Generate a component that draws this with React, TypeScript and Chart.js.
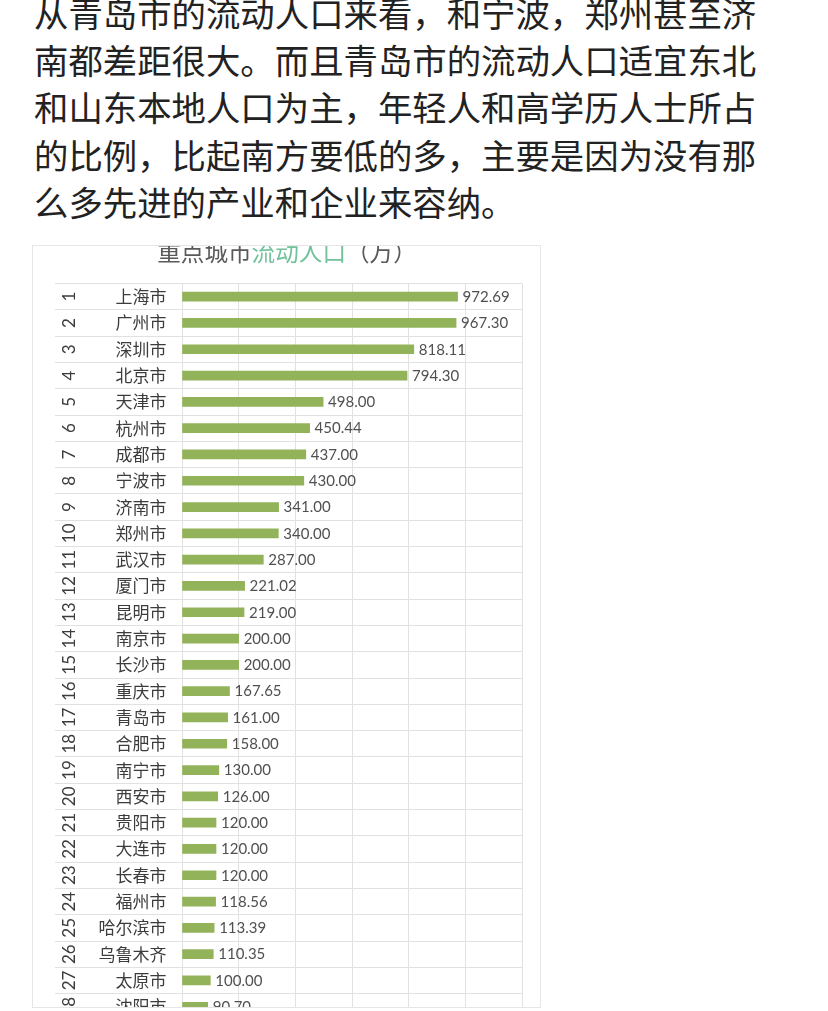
import React, { useEffect, useRef } from 'react';
import { Chart, registerables } from 'chart.js';

Chart.register(...registerables);

const paragraphLines = [
  '从青岛市的流动人口来看，和宁波，郑州甚至济',
  '南都差距很大。而且青岛市的流动人口适宜东北',
  '和山东本地人口为主，年轻人和高学历人士所占',
  '的比例，比起南方要低的多，主要是因为没有那',
  '么多先进的产业和企业来容纳。',
];

const titleTexts = ['重点城市', '流动人口', '（万）'];

const ranks = [
  '1', '2', '3', '4', '5', '6', '7', '8', '9', '10', '11', '12', '13', '14',
  '15', '16', '17', '18', '19', '20', '21', '22', '23', '24', '25', '26', '27', '28',
];

const cities = [
  '上海市', '广州市', '深圳市', '北京市', '天津市', '杭州市', '成都市',
  '宁波市', '济南市', '郑州市', '武汉市', '厦门市', '昆明市', '南京市',
  '长沙市', '重庆市', '青岛市', '合肥市', '南宁市', '西安市', '贵阳市',
  '大连市', '长春市', '福州市', '哈尔滨市', '乌鲁木齐', '太原市', '沈阳市',
];

const values = [
  972.69, 967.3, 818.11, 794.3, 498.0, 450.44, 437.0,
  430.0, 341.0, 340.0, 287.0, 221.02, 219.0, 200.0,
  200.0, 167.65, 161.0, 158.0, 130.0, 126.0, 120.0,
  120.0, 120.0, 118.56, 113.39, 110.35, 100.0, 90.7,
];

const xMin = 0;
const xMax = 1200;
const xStep = 200;

const CANVAS_W = 828;
const CANVAS_H = 1040;
const GRID = '#e1e1e1';
const TEXT_DARK = '#3c3c3c';
const TITLE_GRAY = '#5a5a5a';
const TITLE_GREEN = '#72c29c';

const labelsPlugin = {
  id: 'tableLabels',
  afterDatasetsDraw(chart: any) {
    const ctx = chart.ctx as CanvasRenderingContext2D;
    const ys = chart.scales.y;
    const xs = chart.scales.x;
    ctx.save();

    // title
    ctx.font = '23.6px "Noto Sans CJK SC"';
    ctx.textBaseline = 'middle';
    ctx.textAlign = 'left';
    const widths = titleTexts.map((t) => ctx.measureText(t).width);
    const total = widths.reduce((a, b) => a + b, 0);
    let tx = 287 - total / 2;
    titleTexts.forEach((t, i) => {
      ctx.fillStyle = i === 1 ? TITLE_GREEN : TITLE_GRAY;
      ctx.fillText(t, tx, 252);
      tx += widths[i];
    });

    cities.forEach((city, i) => {
      const py = ys.getPixelForValue(i);
      // rank (rotated)
      ctx.save();
      ctx.translate(70, py);
      ctx.rotate(-Math.PI / 2);
      ctx.font = '17px Lato';
      ctx.fillStyle = TEXT_DARK;
      ctx.textAlign = 'center';
      ctx.textBaseline = 'middle';
      ctx.fillText(ranks[i], 0, 0);
      ctx.restore();

      // city name
      ctx.font = '17px "Noto Sans CJK SC"';
      ctx.fillStyle = TEXT_DARK;
      ctx.textAlign = 'right';
      ctx.textBaseline = 'middle';
      ctx.fillText(city, 166.5, py);

      // value label
      const bx = xs.getPixelForValue(values[i]);
      ctx.font = '15px Lato';
      ctx.fillStyle = '#505050';
      ctx.textAlign = 'left';
      ctx.fillText(values[i].toFixed(2), bx + 5, py + 0.5);
    });
    ctx.restore();
  },
};

function ChartCanvas() {
  const ref = useRef<HTMLCanvasElement | null>(null);
  useEffect(() => {
    if (!ref.current) return;
    const chart = new Chart(ref.current, {
      type: 'bar',
      data: {
        labels: cities,
        datasets: [
          {
            data: values,
            backgroundColor: '#93b35a',
            barThickness: 9,
          },
        ],
      },
      options: {
        indexAxis: 'y',
        responsive: false,
        animation: false,
        devicePixelRatio: 1,
        layout: {
          padding: { left: 55, right: CANVAS_W - 522, top: 283.5, bottom: CANVAS_H - 1019.9 },
        },
        plugins: {
          legend: { display: false },
          tooltip: { enabled: false },
          title: { display: false },
        },
        scales: {
          x: {
            type: 'linear',
            min: xMin,
            max: xMax,
            ticks: { display: false, stepSize: xStep },
            grid: { color: GRID, drawTicks: false, lineWidth: 1 },
            border: { display: false },
            afterFit: (s: any) => {
              s.height = 0;
            },
          },
          y: {
            type: 'category',
            offset: true,
            ticks: { display: false },
            grid: {
              offset: true,
              color: GRID,
              tickColor: GRID,
              drawTicks: true,
              tickLength: 127,
              lineWidth: 1,
            },
            border: { display: false },
            afterFit: (s: any) => {
              s.width = 127;
            },
          },
        },
      } as any,
      plugins: [labelsPlugin],
    });
    return () => chart.destroy();
  }, []);
  return (
    <canvas
      ref={ref}
      width={CANVAS_W}
      height={CANVAS_H}
      style={{ position: 'absolute', left: -32, top: -245, width: CANVAS_W, height: CANVAS_H }}
    />
  );
}

export default function App() {
  return (
    <div
      style={{
        position: 'absolute',
        left: 0,
        top: 0,
        width: 828,
        height: 1011,
        overflow: 'hidden',
        background: '#ffffff',
      }}
    >
      <div
        style={{
          position: 'absolute',
          left: 34,
          top: -11.5,
          fontFamily: '"Noto Sans CJK SC", sans-serif',
          fontSize: 34.4,
          lineHeight: '47.4px',
          color: '#222222',
        }}
      >
        {paragraphLines.map((l, i) => (
          <div key={i} style={{ whiteSpace: 'nowrap' }}>
            {l}
          </div>
        ))}
      </div>
      <div
        style={{
          position: 'absolute',
          left: 32,
          top: 245,
          width: 509,
          height: 763,
          overflow: 'hidden',
          background: '#ffffff',
        }}
      >
        <ChartCanvas />
        <div
          style={{
            position: 'absolute',
            left: 0,
            top: 0,
            width: 509,
            height: 763,
            boxSizing: 'border-box',
            border: '1px solid #e6e6e6',
            pointerEvents: 'none',
          }}
        />
      </div>
    </div>
  );
}
